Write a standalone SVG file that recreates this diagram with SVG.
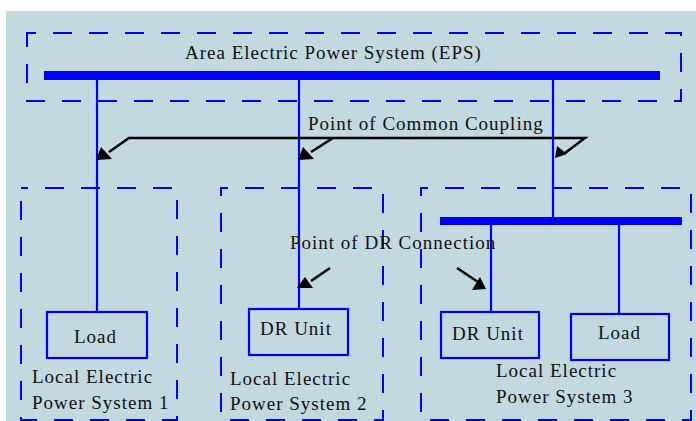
<svg xmlns="http://www.w3.org/2000/svg" width="696" height="421" viewBox="0 0 696 421">
<style>
.dash{fill:none;stroke:#0000ff;stroke-width:2;stroke-dasharray:19 17;}
.bus{fill:#0000ff;}
.wire{stroke:#0000ff;stroke-width:2.2;fill:none;}
.box{fill:none;stroke:#0000ff;stroke-width:2.2;}
.t{font-family:"Liberation Serif","Times New Roman",serif;font-size:19px;letter-spacing:1px;fill:#111;}
.ptr{stroke:#000;stroke-width:2.5;fill:none;}
.head{fill:#000;}
</style>
<rect x="0" y="0" width="696" height="421" fill="#ffffff"/>
<rect x="6" y="11" width="690" height="410" fill="#c1d9df"/>

<g id="area-eps">
<rect class="dash" x="27" y="33" width="654" height="68" stroke-dashoffset="10"/>
<rect class="bus" x="44" y="71" width="616" height="9"/>
<text class="t" x="185" y="59">Area Electric Power System (EPS)</text>
</g>

<g id="leps1">
<rect class="dash" x="21" y="188" width="156" height="232" stroke-dashoffset="12"/>
<text class="t" x="32" y="383">Local Electric</text>
<text class="t" x="32" y="409">Power System 1</text>
</g>
<g id="leps2">
<rect class="dash" x="221" y="188" width="162" height="232" stroke-dashoffset="12"/>
<text class="t" x="230" y="385">Local Electric</text>
<text class="t" x="230" y="410">Power System 2</text>
</g>
<g id="leps3">
<rect class="dash" x="421" y="188" width="270" height="232" stroke-dashoffset="12"/>
<rect class="bus" x="440" y="217" width="242" height="8"/>
<text class="t" x="496" y="377">Local Electric</text>
<text class="t" x="496" y="403">Power System 3</text>
</g>

<g id="load1">
<rect class="box" x="47" y="312" width="100" height="46"/>
<text class="t" x="74" y="343">Load</text>
</g>
<g id="dr2">
<rect class="box" x="249" y="309" width="99" height="46"/>
<text class="t" x="260" y="335">DR Unit</text>
</g>
<g id="dr3">
<rect class="box" x="441" y="312" width="98" height="46"/>
<text class="t" x="452" y="340">DR Unit</text>
</g>
<g id="load3">
<rect class="box" x="571" y="314" width="98" height="46"/>
<text class="t" x="598" y="339">Load</text>
</g>

<g id="connectors">
<line class="wire" x1="97" y1="80" x2="97" y2="312"/>
<line class="wire" x1="299" y1="80" x2="299" y2="309"/>
<line class="wire" x1="553" y1="80" x2="553" y2="217"/>
<line class="wire" x1="491" y1="225" x2="491" y2="312"/>
<line class="wire" x1="619" y1="225" x2="619" y2="314"/>
</g>

<g id="pcc-label">
<text class="t" x="308" y="130">Point of Common Coupling</text>
<polyline class="ptr" points="109,152 129,138 585,138 565,153"/>
<line class="ptr" x1="333" y1="138" x2="311" y2="152"/>
<polygon class="head" points="96,160 101,147 112,159"/>
<polygon class="head" points="298,160 303,147 314,159"/>
<polygon class="head" points="555,158 557,146 567,154"/>
</g>

<g id="drc-label">
<text class="t" x="290" y="249">Point of DR Connection</text>
<line class="ptr" x1="330" y1="268" x2="311" y2="281"/>
<polygon class="head" points="297,288 305,277 313,288"/>
<line class="ptr" x1="457" y1="268" x2="478" y2="282"/>
<polygon class="head" points="472,290 480,277 486,289"/>
</g>
</svg>
